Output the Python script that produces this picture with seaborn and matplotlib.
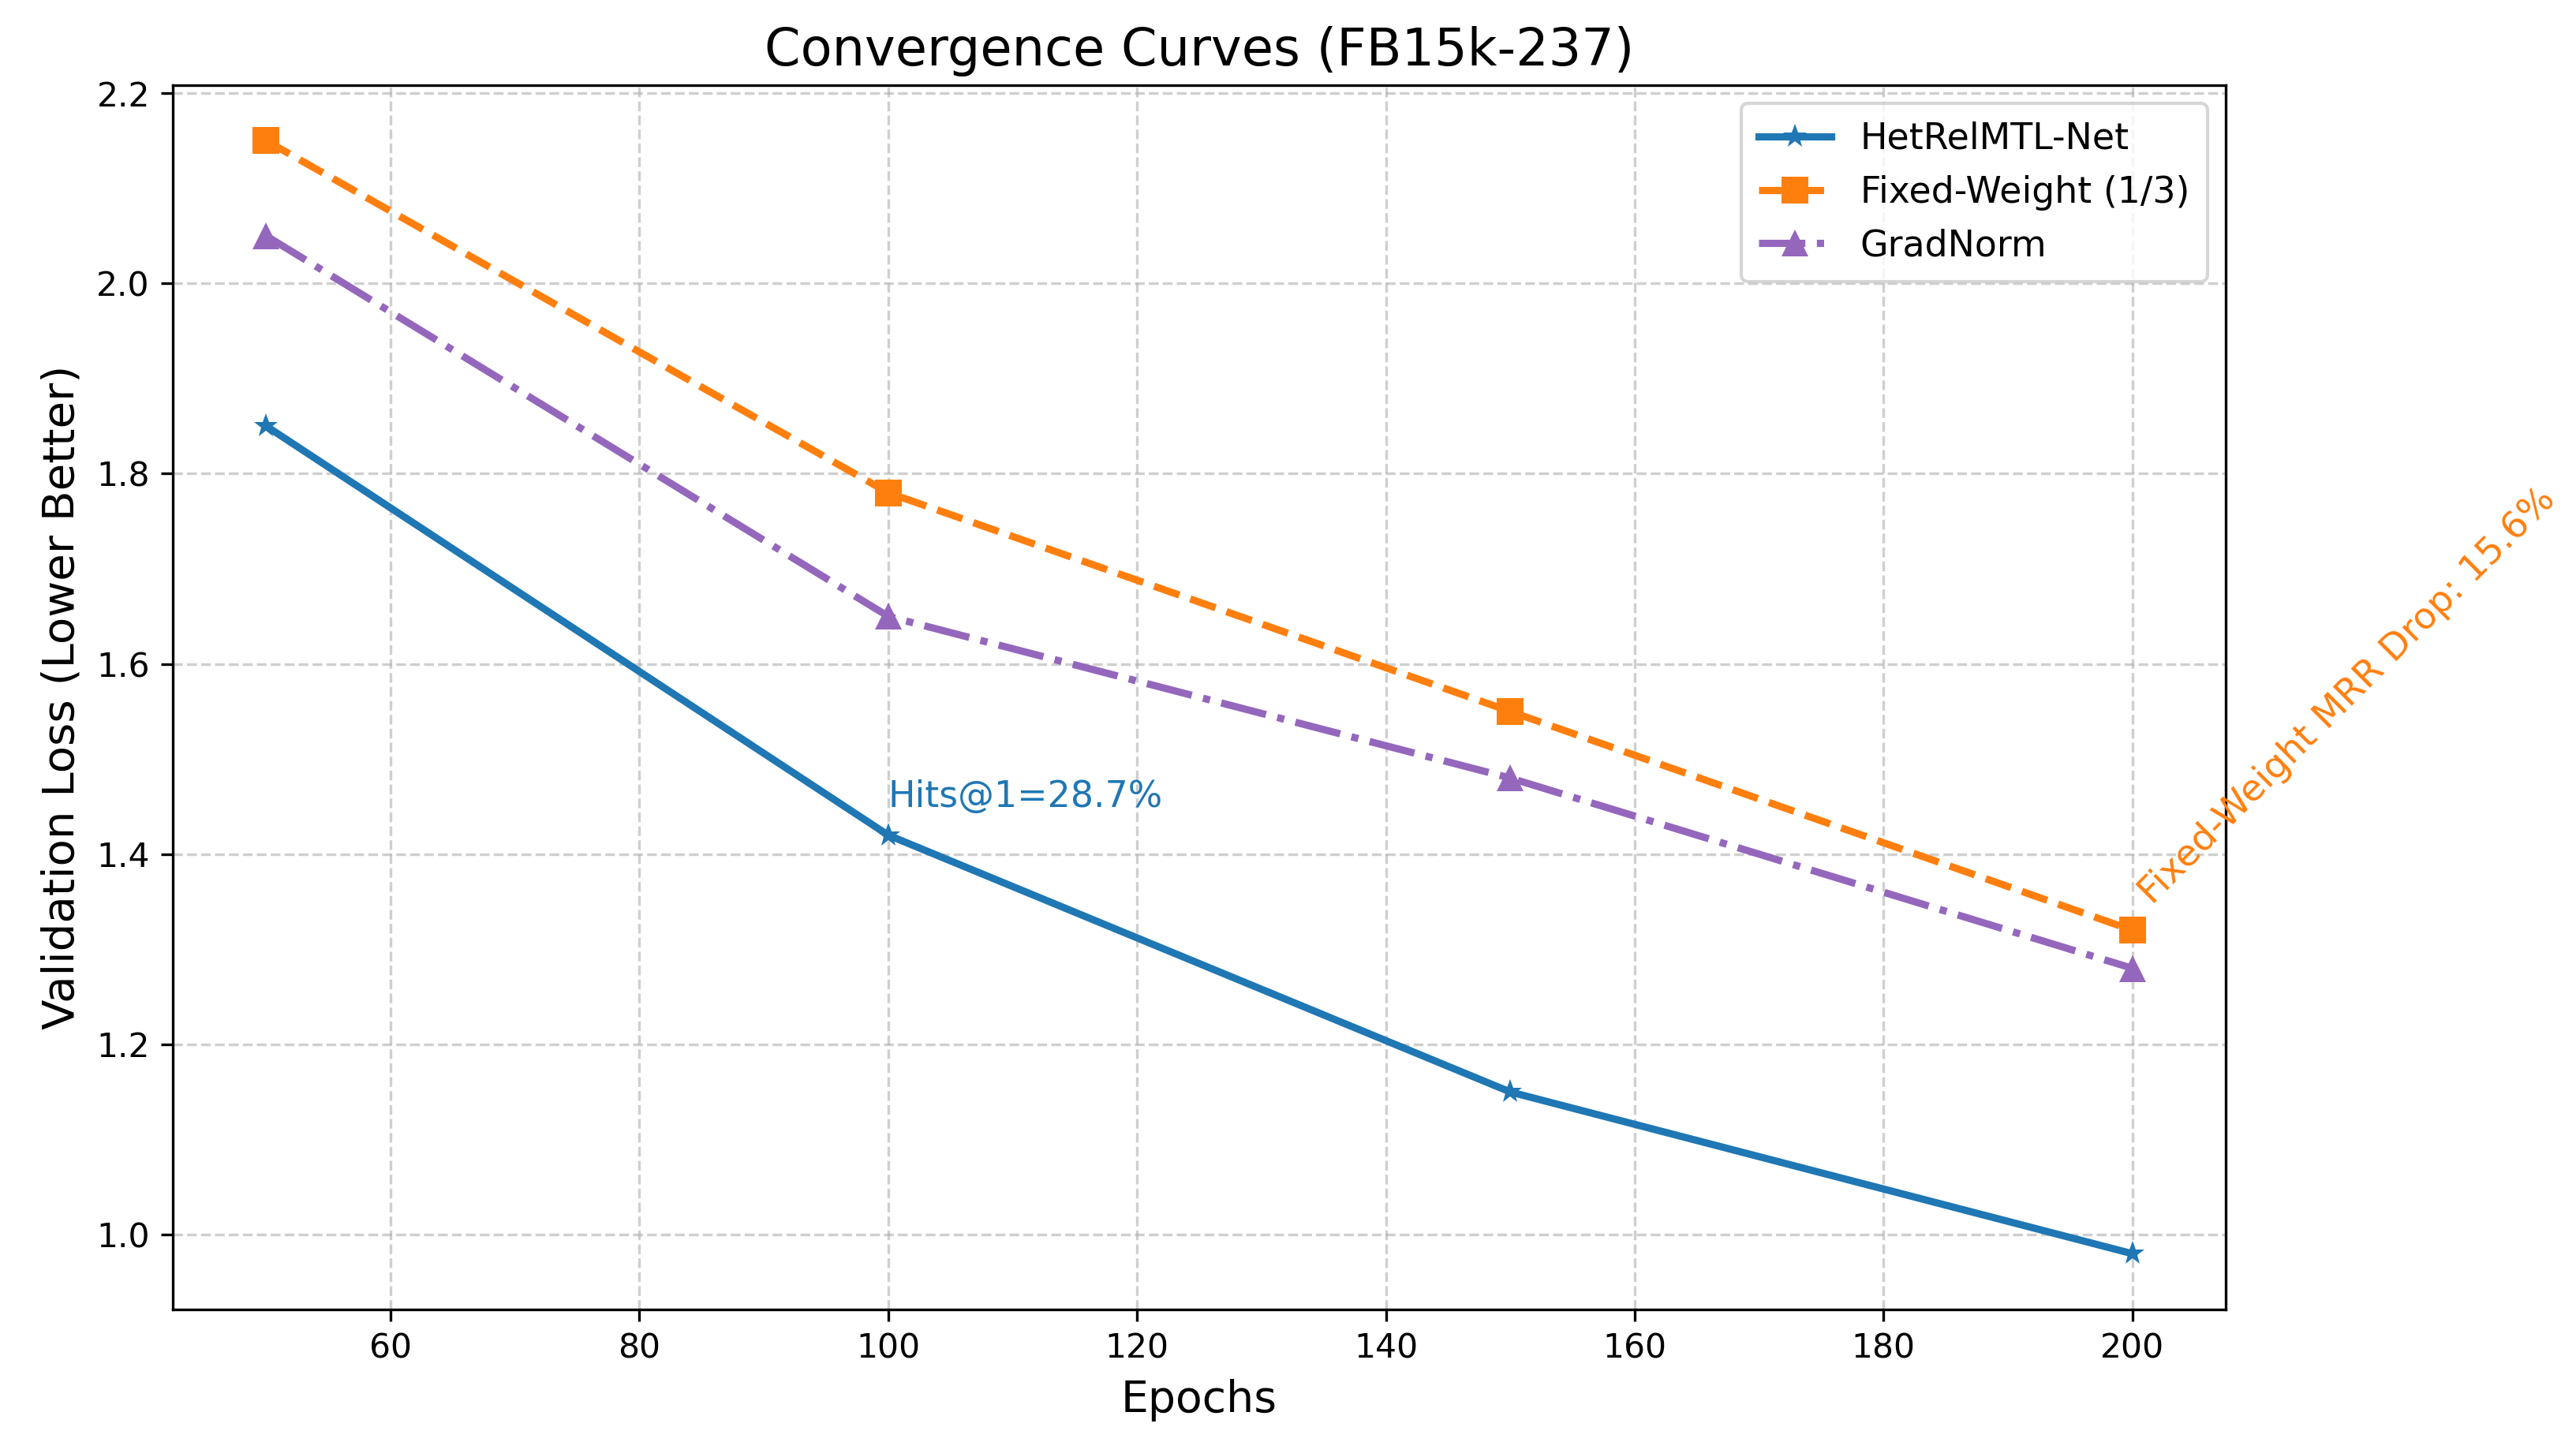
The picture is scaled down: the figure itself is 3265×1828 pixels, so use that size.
import pandas as pd
import matplotlib
matplotlib.use('Agg')
import matplotlib.pyplot as plt
import seaborn as sns

# Datos
epochs = [50, 100, 150, 200]
hetrel = [1.85, 1.42, 1.15, 0.98]
fixed_w = [2.15, 1.78, 1.55, 1.32]
gradnorm = [2.05, 1.65, 1.48, 1.28]

df = pd.DataFrame({'Epochs': epochs, 'HetRelMTL-Net': hetrel,
                   'Fixed-Weight (1/3)': fixed_w, 'GradNorm': gradnorm})

plt.rcParams['font.family'] = ['DejaVu Sans']
fig = plt.figure(figsize=(3265 / 300, 1828 / 300), dpi=300)
ax = fig.add_axes([0.0671, 0.092, 0.864 - 0.0671, 0.941 - 0.092])

sns.lineplot(data=df, x='Epochs', y='HetRelMTL-Net', ax=ax, color='#1f77b4',
             marker='*', markersize=7.5, linestyle='-', linewidth=2.2,
             markeredgewidth=0, label='HetRelMTL-Net')
sns.lineplot(data=df, x='Epochs', y='Fixed-Weight (1/3)', ax=ax, color='#ff7f0e',
             marker='s', markersize=8, linestyle='--', linewidth=2.2,
             markeredgewidth=0, label='Fixed-Weight (1/3)')
sns.lineplot(data=df, x='Epochs', y='GradNorm', ax=ax, color='#9467bd',
             marker='^', markersize=8, linestyle='-.', linewidth=2.2,
             markeredgewidth=0, label='GradNorm')

# Anotaciones
ax.text(epochs[1], hetrel[1] + 0.03, 'Hits@1=28.7%', color='#1f77b4', fontsize=11)
ax.text(epochs[3], fixed_w[3] + 0.02, 'Fixed-Weight MRR Drop: 15.6%', color='#ff7f0e',
        fontsize=11.2, rotation=45, va='bottom', ha='left')

ax.set_title('Convergence Curves (FB15k-237)', fontsize=15.7)
ax.set_xlabel('Epochs', fontsize=13.3)
ax.set_ylabel('Validation Loss (Lower Better)', fontsize=13.5)
ax.tick_params(labelsize=10.2)
ax.grid(True, linestyle='--', alpha=0.6)
ax.legend(loc='upper right', fontsize=11, borderpad=0.5)

fig.savefig('out.png', dpi=300)
